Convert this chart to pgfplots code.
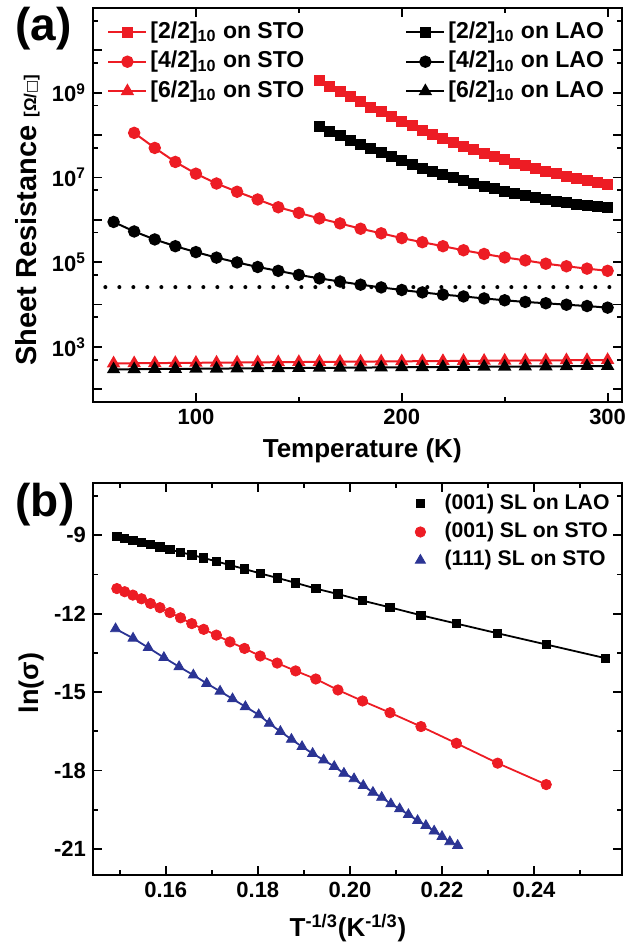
\documentclass[border=0pt]{standalone}
\usepackage{pgfplots}
\pgfplotsset{compat=1.18}
\usepackage{fontspec}
\setmainfont{Liberation Sans}
\newfontfamily\djv{DejaVu Sans}
\definecolor{ored}{RGB}{237,28,36}
\definecolor{oblue}{RGB}{43,52,148}

\begin{document}
\begin{tikzpicture}
\useasboundingbox (0,0) rectangle (315.5pt,-472.5pt);
\pgfplotsset{
  every axis/.append style={
    scale only axis, width=264.5pt,
    axis line style={line width=1pt},
    tick align=inside,
    major tick length=4.5pt, minor tick length=2.5pt,
    every tick/.style={black, line width=0.9pt},
    every minor tick/.style={black, line width=0.9pt},
    tick label style={font=\fontsize{11}{12}\selectfont\bfseries},
    /pgf/number format/assume math mode=true,
  }
}

% (a) sheet resistance vs temperature
\begin{axis}[
  at={(46.5pt,-201pt)}, anchor=south west, height=197pt,
  xmin=50, xmax=307,
  xtick={100,200,300}, xticklabels={100,200,300}, minor xtick={150,250},
  ymode=log, ymin=50, ymax=1e11,
  ytick={1e2,1e3,1e4,1e5,1e6,1e7,1e8,1e9,1e10},
  yticklabels={,10\textsuperscript{3},,10\textsuperscript{5},,10\textsuperscript{7},,10\textsuperscript{9},},
  minor ytick={5e2,5e3,5e4,5e5,5e6,5e7,5e8,5e9,5e10},
  xlabel={Temperature (K)},
  ylabel={Sheet Resistance {\fontsize{8.5}{9}\selectfont[Ω/{\djv\fontsize{7}{7}\selectfont □}]}},
  every axis x label/.style={at={(axis description cs:0.509,-0.124)}, anchor=center,
    font=\fontsize{13}{15}\selectfont\bfseries},
  every axis y label/.style={at={(axis description cs:-0.124,0.462)}, anchor=center, rotate=90,
    font=\fontsize{14.5}{16}\selectfont\bfseries},
  legend columns=2,
  legend cell align=left,
  legend style={at={(axis description cs:0.0265,0.970)}, anchor=north west,
    draw=none, fill=none, inner sep=0pt,
    font=\fontsize{11.5}{13}\selectfont\bfseries,
    nodes={inner sep=0.5pt, text height=8.5pt, text depth=2.5pt},
    row sep=2.75pt, column sep=1pt,
    /tikz/every even column/.append style={column sep=50pt}},
  legend image code/.code={\draw[mark repeat=2,mark phase=2] plot coordinates {(0pt,0pt)(9.5pt,0pt)(19pt,0pt)};},
]
\addplot[black, line width=2pt, line cap=round, dash pattern=on 0pt off 7pt, forget plot]
  coordinates {(56,25812)(307,25812)};

\addplot[ored, line width=1pt, mark=square*, mark size=2.25pt, mark options={solid, fill=ored}] coordinates {
(160,1.954e9)(165,1.439e9)(170,1.069e9)(175,8.02e8)(180,6.04e8)(185,4.59e8)
(190,3.52e8)(195,2.72e8)(200,2.11e8)(205,1.65e8)(210,1.30e8)(215,1.04e8)
(220,8.32e7)(225,6.73e7)(230,5.47e7)(235,4.49e7)(240,3.71e7)(245,3.09e7)
(250,2.59e7)(255,2.19e7)(260,1.87e7)(265,1.61e7)(270,1.39e7)(275,1.21e7)
(280,1.07e7)(285,9.44e6)(290,8.41e6)(295,7.59e6)(300,6.87e6)};
\addlegendentry{\relax[2/2]\textsubscript{10} on STO}
\addplot[black, line width=1pt, mark=square*, mark size=2.25pt, mark options={solid, fill=black}] coordinates {
(160,1.62e8)(165,1.24e8)(170,9.66e7)(175,7.55e7)(180,5.96e7)(185,4.73e7)
(190,3.78e7)(195,3.05e7)(200,2.48e7)(205,2.03e7)(210,1.67e7)(215,1.39e7)
(220,1.16e7)(225,9.83e6)(230,8.36e6)(235,7.16e6)(240,6.18e6)(245,5.38e6)
(250,4.73e6)(255,4.17e6)(260,3.72e6)(265,3.33e6)(270,3.01e6)(275,2.75e6)
(280,2.52e6)(285,2.33e6)(290,2.17e6)(295,2.05e6)(300,1.94e6)};
\addlegendentry{\relax[2/2]\textsubscript{10} on LAO}
\addplot[ored, line width=1pt, mark=*, mark size=2.6pt, mark options={solid, fill=ored}] coordinates {
(70,1.127e8)(80,4.97e7)(90,2.32e7)(100,1.225e7)(110,7.19e6)(120,4.59e6)
(130,3.02e6)(140,1.98e6)(150,1.456e6)(160,1.077e6)(170,8.22e5)(180,6.15e5)
(190,4.80e5)(200,3.70e5)(210,2.96e5)(220,2.38e5)(230,1.91e5)(240,1.56e5)
(250,1.294e5)(260,1.102e5)(270,9.20e4)(280,8.00e4)(290,7.03e4)(300,6.24e4)};
\addlegendentry{\relax[4/2]\textsubscript{10} on STO}
\addplot[black, line width=1pt, mark=*, mark size=2.6pt, mark options={solid, fill=black}] coordinates {
(60,8.91e5)(70,5.30e5)(80,3.44e5)(90,2.38e5)(100,1.728e5)(110,1.280e5)
(120,9.86e4)(130,7.69e4)(140,6.24e4)(150,5.00e4)(160,4.14e4)(170,3.49e4)
(180,2.94e4)(190,2.535e4)(200,2.203e4)(210,1.932e4)(220,1.715e4)(230,1.552e4)
(240,1.391e4)(250,1.259e4)(260,1.150e4)(270,1.072e4)(280,9.89e3)(290,9.22e3)(300,8.44e3)};
\addlegendentry{\relax[4/2]\textsubscript{10} on LAO}
\addplot[ored, line width=1pt, mark=triangle*, mark size=2.9pt, mark options={solid, fill=ored}] coordinates {
(60,408)(70,411)(80,414)(90,418)(100,421)(110,425)(120,428)(130,432)(140,435)
(150,439)(160,442)(170,446)(180,449)(190,453)(200,456)(210,460)(220,463)
(230,467)(240,470)(250,474)(260,477)(270,481)(280,484)(290,487)(300,490)};
\addlegendentry{\relax[6/2]\textsubscript{10} on STO}
\addplot[black, line width=1pt, mark=triangle*, mark size=2.9pt, mark options={solid, fill=black}] coordinates {
(60,295)(70,297)(80,300)(90,302)(100,305)(110,307)(120,310)(130,312)(140,315)
(150,317)(160,320)(170,322)(180,325)(190,327)(200,330)(210,332)(220,335)
(230,337)(240,340)(250,342)(260,344)(270,347)(280,349)(290,352)(300,354)};
\addlegendentry{\relax[6/2]\textsubscript{10} on LAO}
\end{axis}

% (b) ln(sigma) vs T^{-1/3}
\begin{axis}[
  at={(46.5pt,-437.5pt)}, anchor=south west, height=196pt,
  xmin=0.1442, xmax=0.2591,
  xtick={0.16,0.18,0.20,0.22,0.24}, xticklabels={0.16,0.18,0.20,0.22,0.24},
  minor xtick={0.15,0.17,0.19,0.21,0.23,0.25},
  ymin=-22, ymax=-7,
  ytick={-21,-18,-15,-12,-9}, yticklabels={-21,-18,-15,-12,-9},
  minor ytick={-19.5,-16.5,-13.5,-10.5,-7.5},
  xlabel={T\textsuperscript{-1/3}(K\textsuperscript{-1/3})},
  ylabel={ln(σ)},
  every axis x label/.style={at={(axis description cs:0.482,-0.135)}, anchor=center,
    font=\fontsize{13}{15}\selectfont\bfseries},
  every axis y label/.style={at={(axis description cs:-0.117,0.49)}, anchor=center, rotate=90,
    font=\fontsize{13.5}{15}\selectfont\bfseries},
  legend cell align=left,
  legend style={at={(axis description cs:0.979,0.9776)}, anchor=north east,
    draw=none, fill=none, inner sep=0pt,
    font=\fontsize{10.6}{12}\selectfont\bfseries,
    nodes={inner sep=0.5pt, text height=8pt, text depth=2.5pt},
    row sep=2.65pt, column sep=9pt},
  legend image code/.code={\draw[mark repeat=2,mark phase=2] plot coordinates {(0pt,0pt)(3pt,0pt)(6pt,0pt)};},
]
\addplot[black, line width=0.9pt, forget plot] coordinates {
(0.14938,-9.04)(0.15108,-9.13)(0.15286,-9.20)(0.15472,-9.28)(0.15668,-9.35)
(0.15874,-9.44)(0.16091,-9.54)(0.16321,-9.65)(0.16565,-9.75)(0.16824,-9.87)
(0.17100,-10.00)(0.17395,-10.14)(0.17711,-10.29)(0.18052,-10.46)(0.18420,-10.63)
(0.18821,-10.82)(0.19259,-11.04)(0.19740,-11.25)(0.20274,-11.50)(0.20871,-11.76)
(0.21544,-12.06)(0.22314,-12.38)(0.23208,-12.75)(0.24264,-13.18)(0.25544,-13.70)};
\addplot[ored, line width=0.9pt, forget plot] coordinates {
(0.14938,-11.04)(0.15108,-11.16)(0.15286,-11.29)(0.15472,-11.43)(0.15668,-11.61)
(0.15874,-11.77)(0.16091,-11.96)(0.16321,-12.16)(0.16565,-12.38)(0.16824,-12.60)
(0.17100,-12.82)(0.17395,-13.08)(0.17711,-13.33)(0.18052,-13.62)(0.18420,-13.89)
(0.18821,-14.19)(0.19259,-14.50)(0.19740,-14.92)(0.20274,-15.34)(0.20871,-15.79)
(0.21544,-16.32)(0.22314,-16.96)(0.23208,-17.72)(0.24264,-18.54)};
\addplot[oblue, line width=0.9pt, forget plot] coordinates {
(0.1491,-12.58)(0.1529,-12.94)(0.1562,-13.30)(0.1596,-13.68)(0.1629,-14.03)
(0.1660,-14.35)(0.1689,-14.67)(0.1718,-14.97)(0.1745,-15.26)(0.1773,-15.56)
(0.1802,-15.87)(0.1825,-16.20)(0.1849,-16.51)(0.1873,-16.81)(0.1896,-17.09)
(0.1919,-17.35)(0.1943,-17.60)(0.1966,-17.85)(0.1987,-18.11)(0.2009,-18.32)
(0.2029,-18.58)(0.2050,-18.84)(0.2069,-19.03)(0.2089,-19.28)(0.2108,-19.47)
(0.2127,-19.69)(0.2147,-19.92)(0.2165,-20.11)(0.2183,-20.32)(0.2200,-20.53)
(0.2217,-20.73)(0.2234,-20.87)};

\addplot[black, only marks, mark=square*, mark size=2.1pt] coordinates {
(0.14938,-9.04)(0.15108,-9.13)(0.15286,-9.20)(0.15472,-9.28)(0.15668,-9.35)
(0.15874,-9.44)(0.16091,-9.54)(0.16321,-9.65)(0.16565,-9.75)(0.16824,-9.87)
(0.17100,-10.00)(0.17395,-10.14)(0.17711,-10.29)(0.18052,-10.46)(0.18420,-10.63)
(0.18821,-10.82)(0.19259,-11.04)(0.19740,-11.25)(0.20274,-11.50)(0.20871,-11.76)
(0.21544,-12.06)(0.22314,-12.38)(0.23208,-12.75)(0.24264,-13.18)(0.25544,-13.70)};
\addplot[ored, only marks, mark=*, mark size=2.6pt] coordinates {
(0.14938,-11.04)(0.15108,-11.16)(0.15286,-11.29)(0.15472,-11.43)(0.15668,-11.61)
(0.15874,-11.77)(0.16091,-11.96)(0.16321,-12.16)(0.16565,-12.38)(0.16824,-12.60)
(0.17100,-12.82)(0.17395,-13.08)(0.17711,-13.33)(0.18052,-13.62)(0.18420,-13.89)
(0.18821,-14.19)(0.19259,-14.50)(0.19740,-14.92)(0.20274,-15.34)(0.20871,-15.79)
(0.21544,-16.32)(0.22314,-16.96)(0.23208,-17.72)(0.24264,-18.54)};
\addplot[oblue, only marks, mark=triangle*, mark size=2.9pt] coordinates {
(0.1491,-12.58)(0.1529,-12.94)(0.1562,-13.30)(0.1596,-13.68)(0.1629,-14.03)
(0.1660,-14.35)(0.1689,-14.67)(0.1718,-14.97)(0.1745,-15.26)(0.1773,-15.56)
(0.1802,-15.87)(0.1825,-16.20)(0.1849,-16.51)(0.1873,-16.81)(0.1896,-17.09)
(0.1919,-17.35)(0.1943,-17.60)(0.1966,-17.85)(0.1987,-18.11)(0.2009,-18.32)
(0.2029,-18.58)(0.2050,-18.84)(0.2069,-19.03)(0.2089,-19.28)(0.2108,-19.47)
(0.2127,-19.69)(0.2147,-19.92)(0.2165,-20.11)(0.2183,-20.32)(0.2200,-20.53)
(0.2217,-20.73)(0.2234,-20.87)};
\legend{(001) SL on LAO,(001) SL on STO,(111) SL on STO}
\end{axis}

\node[font=\fontsize{23}{23}\selectfont\bfseries] at (21.75pt,-14.25pt) {(a)};
\node[font=\fontsize{23}{23}\selectfont\bfseries] at (22.5pt,-252.5pt) {(b)};
\end{tikzpicture}
\end{document}
